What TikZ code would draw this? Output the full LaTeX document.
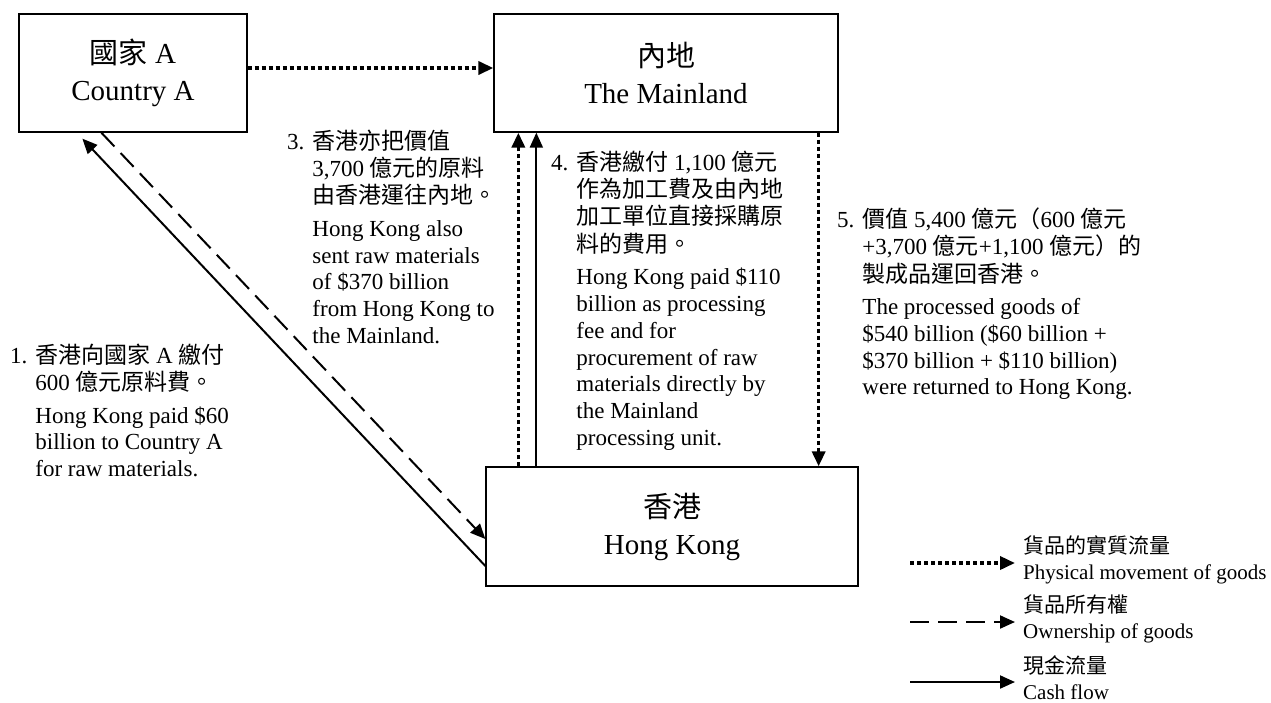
\documentclass[tikz,border=0pt]{standalone}
\usepackage{fontspec}
\setmainfont{Liberation Serif}
\newfontfamily\hkzh{Noto Sans CJK TC}
\newcommand{\zh}[1]{{\hkzh #1}}
\usetikzlibrary{positioning}
\usetikzlibrary{arrows.meta}

\begin{document}
\begin{tikzpicture}[x=1pt,y=-1pt,on grid,
    box/.style={draw, line width=1.3pt, align=center, inner sep=0pt,
                minimum height=118pt, font=\fontsize{29}{37}\selectfont},
    note/.style={anchor=base west, inner sep=0pt, font=\fontsize{23}{26.7}\selectfont},
    legtext/.style={anchor=west, inner sep=0pt, align=left, font=\fontsize{21}{26}\selectfont},
    tip/.style={-{Triangle[length=15pt,width=13pt]}},
    dotflow/.style={tip, line width=3.5pt, dash pattern=on 4pt off 3pt},
    dashflow/.style={tip, line width=2pt, dash pattern=on 19pt off 9pt},
    cashflow/.style={tip, line width=2pt}]
        % \draw[help lines] (0,0) grid (1271,702);
      \useasboundingbox (0,0) rectangle (1271,702);

      \node[box, minimum width=228pt] at (133,73)       (ca) {\zh{國家} A\\Country A};
      \node[box, minimum width=344pt, right=533pt of ca] (ml) {\zh{內地}\\The Mainland};
      \node[box, minimum width=372pt, minimum height=119pt, below=453.5pt of ml, xshift=6pt] (hk) {\zh{香港}\\Hong Kong};

      \node[note] (n3) at (287,149) {\begin{tabular}[t]{@{}l@{\hspace{8pt}}l@{}}
          3. & \zh{香港亦把價值}\\
             & 3,700 \zh{億元的原料}\\
             & \zh{由香港運往內地。}\\[6pt]
             & Hong Kong also\\
             & sent raw materials\\
             & of \$370 billion\\
             & from Hong Kong to\\
             & the Mainland.
        \end{tabular}};
      \node[note] (n1) at (10,363) {\begin{tabular}[t]{@{}l@{\hspace{8pt}}l@{}}
          1. & \zh{香港向國家} A \zh{繳付}\\
             & 600 \zh{億元原料費。}\\[6pt]
             & Hong Kong paid \$60\\
             & billion to Country A\\
             & for raw materials.
        \end{tabular}};
      \node[note] (n4) at (551,170) {\begin{tabular}[t]{@{}l@{\hspace{8pt}}l@{}}
          4. & \zh{香港繳付} 1,100 \zh{億元}\\
             & \zh{作為加工費及由內地}\\
             & \zh{加工單位直接採購原}\\
             & \zh{料的費用。}\\[6pt]
             & Hong Kong paid \$110\\
             & billion as processing\\
             & fee and for\\
             & procurement of raw\\
             & materials directly by\\
             & the Mainland\\
             & processing unit.
        \end{tabular}};
      \node[note] (n5) at (837,227) {\begin{tabular}[t]{@{}l@{\hspace{8pt}}l@{}}
          5. & \zh{價值} 5,400 \zh{億元（}600 \zh{億元}\\
             & +3,700 \zh{億元}+1,100 \zh{億元）的}\\
             & \zh{製成品運回香港。}\\[6pt]
             & The processed goods of\\
             & \$540 billion (\$60 billion +\\
             & \$370 billion + \$110 billion)\\
             & were returned to Hong Kong.
        \end{tabular}};

      \draw[dotflow]  ([yshift=5pt]ca.east) -- ([yshift=5pt]ml.west);
      \draw[dotflow]  ([xshift=33pt]hk.north west) -- ([xshift=25pt]ml.south west);
      \draw[cashflow] ([xshift=51pt]hk.north west) -- ([xshift=43pt]ml.south west);
      \draw[dotflow]  ([xshift=-20pt]ml.south east) -- ([xshift=-40pt]hk.north east);
      \draw[dashflow] ([xshift=83pt]ca.south west) -- ([yshift=-12.5pt]hk.west);
      \draw[cashflow] ([yshift=-39.5pt]hk.west) -- ([xshift=64pt,yshift=-6pt]ca.south west);

      % legend
      \coordinate (lg1s) at (910,563);  \coordinate (lg1e) at (1015,563);
      \coordinate (lg2s) at (910,622);  \coordinate (lg2e) at (1015,622);
      \coordinate (lg3s) at (910,682);  \coordinate (lg3e) at (1015,682);
      \draw[dotflow]  (lg1s) -- (lg1e);
      \draw[dashflow] (lg2s) -- (lg2e);
      \draw[cashflow] (lg3s) -- (lg3e);
      \node[legtext] (lg1) at (1023,560) {\zh{貨品的實質流量}\\Physical movement of goods};
      \node[legtext] (lg2) at (1023,619) {\zh{貨品所有權}\\Ownership of goods};
      \node[legtext] (lg3) at (1023,678) {\zh{現金流量}\\Cash flow};
\end{tikzpicture}
\end{document}
